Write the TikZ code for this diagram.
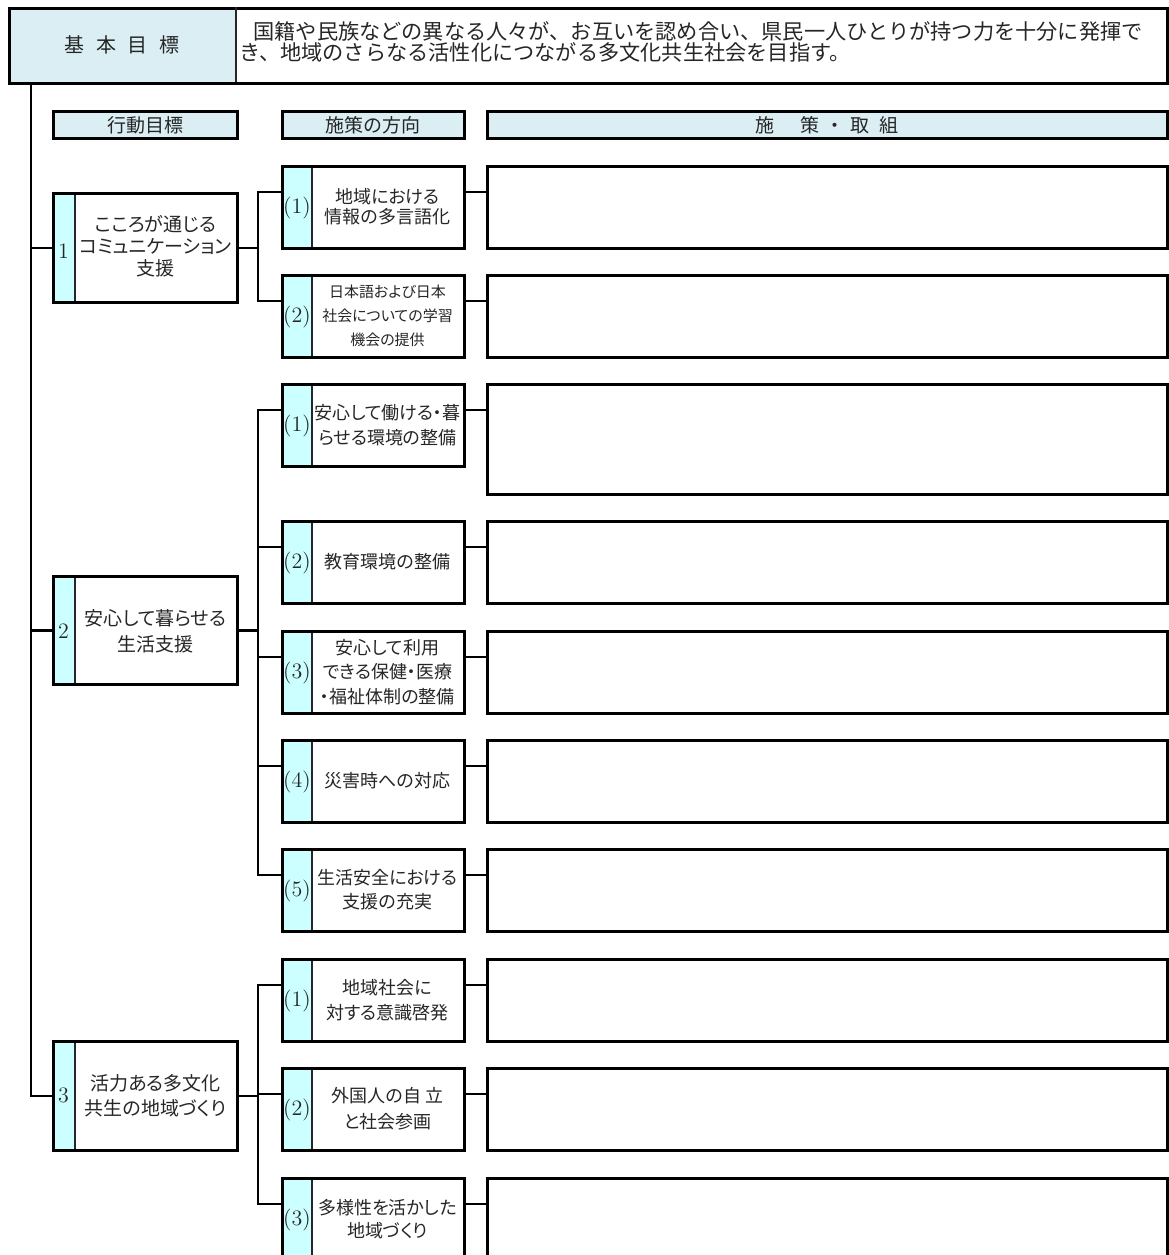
\documentclass[tikz,border=0pt]{standalone}
\usepackage{fontspec}
\newfontfamily\jp{Noto Sans CJK JP}
\newfontfamily\jpp{Noto Sans CJK JP}[RawFeature=+palt]
\usetikzlibrary{calc}
\definecolor{hdrc}{HTML}{DAEEF3}
\definecolor{stripc}{HTML}{CCFFFF}
\definecolor{ink}{HTML}{262626}
\tikzset{
  box/.style={draw=black, line width=1.4pt, inner sep=0pt, anchor=north west},
  conn/.style={line width=1.2pt},
  divline/.style={line width=0.8pt, draw=black!85},
  jtxt/.style={align=center, text=ink, inner sep=0pt},
  numtxt/.style={text=ink, inner sep=0pt, font=\fontsize{11}{12}\selectfont},
  hdrtxt/.style={font=\jp\fontsize{9.5}{10}\selectfont, text=ink}
}
% sub box: name, top, label, text, font
\newcommand\subbx[5]{%
  \fill[stripc] (281,#2) rectangle (312,#2+82);
  \draw[divline] (312,#2) -- (312,#2+82);
  \node[box, minimum width=91pt, minimum height=41pt] (#1) at (281,#2) {};
  \node[numtxt] at (297,#2+43) {#3};
  \node[jtxt, font=\jpp#5] at (387.5,#2+42) {#4};
  \coordinate (#1l) at ($(#1.north west)+(0,27)$);
  \coordinate (#1r) at ($(#1.north east)+(0,27)$);
}
\begin{document}
\begin{tikzpicture}[x=0.5pt,y=-0.5pt]
\fill[white] (0,0) rectangle (1169,1255);
\useasboundingbox (0,0) rectangle (1169,1255);

% top goal box
\fill[hdrc] (8,7) rectangle (236,82);
\node[box, minimum width=579pt, minimum height=37.5pt] (goal) at (8,7) {};
\draw[divline, line width=1pt] (236,7) -- (236,82);
\node[font=\jp\fontsize{10}{12}\selectfont, text=ink] (goalt) at (122,45) {基\hspace{6pt}本\hspace{6pt}目\hspace{6pt}標};
\node[anchor=west, align=left, font=\jp\fontsize{10.6}{10.8}\selectfont, text=ink, inner sep=0pt] (goaltx) at (239,42)
  {\hspace*{7pt}国籍や民族などの異なる人々が、お互いを認め合い、県民一人ひとりが持つ力を十分に発揮で\\き、地域のさらなる活性化につながる多文化共生社会を目指す。};

% headers
\node[box, fill=hdrc, minimum width=92pt, minimum height=13.5pt, hdrtxt] (h1) at (52,110) {行動目標};
\node[box, fill=hdrc, minimum width=91pt, minimum height=13.5pt, hdrtxt] (h2) at (281,110) {施策の方向};
\node[box, fill=hdrc, minimum width=340pt, minimum height=13.5pt, hdrtxt] (h3) at (486,110) {施\hspace{13pt}策\hspace{3pt}・\hspace{3pt}取\hspace{5pt}組};

% main boxes
\fill[stripc] (52,192) rectangle (75,301);
\draw[divline] (75,192) -- (75,301);
\node[box, minimum width=92pt, minimum height=54.5pt] (g1) at (52,192) {};
\node[numtxt] at (63.5,251) {1};
\node[jtxt, font=\jpp\fontsize{9.5}{11}\selectfont] at (155.5,246) {こころが通じる\\コミュニケーション\\支援};

\fill[stripc] (52,575) rectangle (75,683);
\draw[divline] (75,575) -- (75,683);
\node[box, minimum width=92pt, minimum height=54pt] (g2) at (52,575) {};
\node[numtxt] at (63.5,631) {2};
\node[jtxt, font=\jpp\fontsize{9.5}{13}\selectfont] at (155.5,631) {安心して暮らせる\\生活支援};

\fill[stripc] (52,1040) rectangle (75,1149);
\draw[divline] (75,1040) -- (75,1149);
\node[box, minimum width=92pt, minimum height=54.5pt] (g3) at (52,1040) {};
\node[numtxt] at (63.5,1095) {3};
\node[jtxt, font=\jpp\fontsize{9.5}{12.5}\selectfont] at (155.5,1096) {活力ある多文化\\共生の地域づくり};

% sub boxes
\subbx{s11}{165}{(1)}{地域における\\情報の多言語化}{\fontsize{9}{10}\selectfont}
\subbx{s12}{274}{(2)}{日本語および日本\\社会についての学習\\機会の提供}{\fontsize{7.5}{12}\selectfont}
\subbx{s21}{383}{(1)}{安心して働ける・暮\\らせる環境の整備}{\fontsize{9}{12.5}\selectfont}
\subbx{s22}{520}{(2)}{教育環境の整備}{\fontsize{9}{12}\selectfont}
\subbx{s23}{630}{(3)}{安心して利用\\できる保健・医療\\・福祉体制の整備}{\fontsize{9}{12.2}\selectfont}
\subbx{s24}{739}{(4)}{災害時への対応}{\fontsize{9}{12}\selectfont}
\subbx{s25}{848}{(5)}{生活安全における\\支援の充実}{\fontsize{9}{12}\selectfont}
\subbx{s31}{958}{(1)}{地域社会に\\対する意識啓発}{\fontsize{9}{12.5}\selectfont}
\subbx{s32}{1067}{(2)}{外国人の自\hspace{2pt}立\\と社会参画}{\fontsize{9}{13}\selectfont}
\subbx{s33}{1177}{(3)}{多様性を活かした\\地域づくり}{\fontsize{9}{11.5}\selectfont}

% action boxes
\node[box, minimum width=340pt, minimum height=41pt] (a11) at (486,165) {};
\node[box, minimum width=340pt, minimum height=41pt] (a12) at (486,274) {};
\node[box, minimum width=340pt, minimum height=55pt] (a21) at (486,383) {};
\node[box, minimum width=340pt, minimum height=41pt] (a22) at (486,520) {};
\node[box, minimum width=340pt, minimum height=41pt] (a23) at (486,630) {};
\node[box, minimum width=340pt, minimum height=41pt] (a24) at (486,739) {};
\node[box, minimum width=340pt, minimum height=41pt] (a25) at (486,848) {};
\node[box, minimum width=340pt, minimum height=41pt] (a31) at (486,958) {};
\node[box, minimum width=340pt, minimum height=41pt] (a32) at (486,1067) {};
\node[box, minimum width=340pt, minimum height=41pt] (a33) at (486,1177) {};

% trunk
\coordinate (trunk) at ($(goal.south west)+(23,0)$);
\coordinate (bx) at (258,0);
\draw[conn] (trunk) |- (g3.west);
\draw[conn] (trunk |- g1.west) -- (g1.west);
\draw[conn] (trunk |- g2.west) -- (g2.west);

% brackets
\draw[conn] (g1.east) -- (g1.east -| bx);
\draw[conn] (s11l) -- (s11l -| bx) -- (s12l -| bx) -- (s12l);
\draw[conn] (g2.east) -- (g2.east -| bx);
\draw[conn] (s21l) -- (s21l -| bx) -- (s25l -| bx) -- (s25l);
\draw[conn] (s22l -| bx) -- (s22l);
\draw[conn] (s23l -| bx) -- (s23l);
\draw[conn] (s24l -| bx) -- (s24l);
\draw[conn] (g3.east) -- (g3.east -| bx);
\draw[conn] (s31l) -- (s31l -| bx) -- (s33l -| bx) -- (s33l);
\draw[conn] (s32l -| bx) -- (s32l);

% right connectors
\foreach \k in {11,12,21,22,23,24,25,31,32,33}{
  \draw[conn] (s\k r) -- (s\k r -| a\k.west);
}
\end{tikzpicture}
\end{document}
